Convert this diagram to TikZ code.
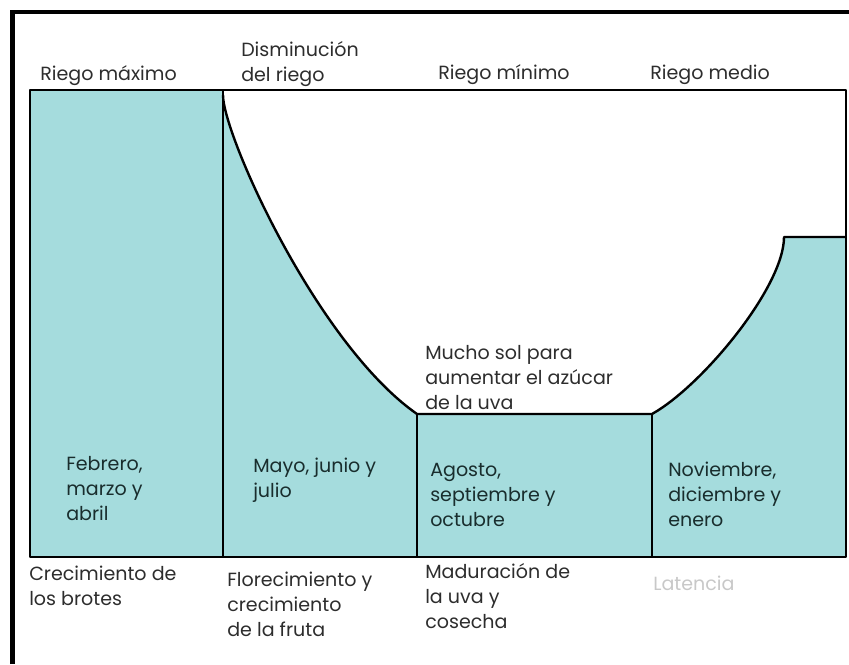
\documentclass[tikz,border=0pt]{standalone}
\usepackage{fontspec}
\setmainfont{Poppins}
\usetikzlibrary{positioning}
\definecolor{riego}{RGB}{165,220,221}
\definecolor{gris}{RGB}{45,45,45}
\definecolor{oscuro}{RGB}{25,45,45}
\definecolor{claro}{RGB}{200,200,200}

\begin{document}
\begin{tikzpicture}[
    x=0.75pt, y=-0.75pt,
    every node/.style={font=\fontsize{14.3}{18.75}\selectfont, inner sep=0pt, align=left, anchor=base west, text=gris},
    mes/.style={text=oscuro},
    borde/.style={line width=2pt, line join=round},
    linea/.style={line width=1.8pt, line join=round}
]
   \useasboundingbox (0,0) rectangle (849,664);

   % Key points
   \coordinate (inicio) at (223,95);
   \coordinate (valle1) at (417,414);
   \coordinate (valle2) at (652,414);
   \coordinate (meseta) at (784,237);

   % Frame
   \draw[line width=3.6pt] (12.5,664) -- (12.5,12) -- (849,12);

   % Irrigation area
   \fill[riego] (30,90) -- (223,90) -- (inicio)
      .. controls (223,135) and (317,344) .. (valle1)
      -- (valle2) .. controls (702,386) and (784,287) .. (meseta)
      -- (846,237) -- (846,557) -- (30,557) -- cycle;
   \draw[linea] (inicio) .. controls (223,135) and (317,344) .. (valle1)
      -- (valle2) .. controls (702,386) and (784,287) .. (meseta) -- (846,237);
   \draw[linea] (223,90) -- (223,557);
   \draw[linea] (valle1) -- (valle1 |- 0,557);
   \draw[linea] (valle2) -- (valle2 |- 0,557);
   \draw[borde] (30,90) rectangle (846,557);

   % Irrigation levels (base = last line)
   \node (max) at (40,80) {Riego máximo};
   \node (dis) at (241,81) {Disminución\\del riego};
   \node (min) at (438,79) {Riego mínimo};
   \node (med) at (650,79) {Riego medio};
   \node (sol) at (425,409) {Mucho sol para\\aumentar el azúcar\\de la uva};

   % Months
   \node[mes] (feb) at (66,520) {Febrero,\\marzo y\\abril};
   \node[mes] (may) at (253,497) {Mayo, junio y\\julio};
   \node[mes] (ago) at (430,526) {Agosto,\\septiembre y\\octubre};
   \node[mes] (nov) at (668,526) {Noviembre,\\diciembre y\\enero};

   % Stages
   \node (bro) at (29,605) {Crecimiento de\\los brotes};
   \node (flo) at (227,636) {Florecimiento y\\crecimiento\\de la fruta};
   \node (mad) at (425,628) {Maduración de\\la uva y\\cosecha};
   \node[text=claro] (lat) at (653,590) {Latencia};
\end{tikzpicture}
\end{document}
